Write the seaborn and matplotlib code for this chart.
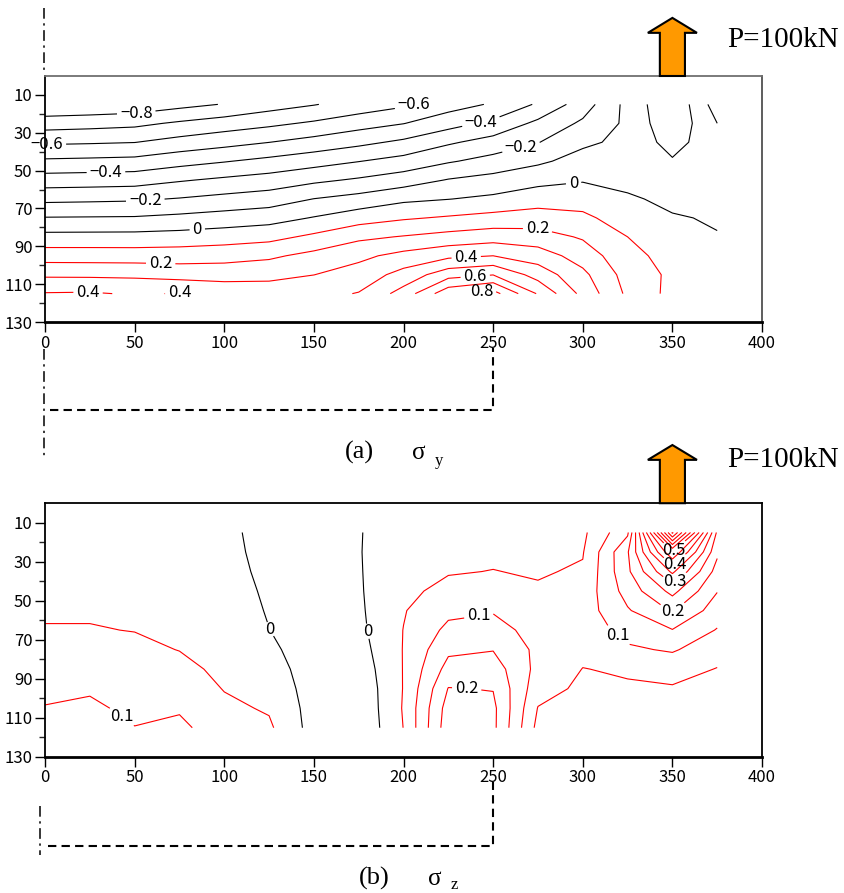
import matplotlib
matplotlib.use("Agg")
import matplotlib.pyplot as plt
import seaborn as sns
from matplotlib.patches import Polygon

# FE grid of the section (x along the member, y depth from the top face)
x_nodes = [0, 25, 50, 75, 100, 125, 150, 175, 200, 225, 250, 275, 300, 325, 350, 375]
y_nodes = [15, 25, 35, 45, 55, 65, 75, 85, 95, 105, 115]

# sigma_y, one row per y node
sigma_y = [
    [-0.890, -0.880, -0.867, -0.830, -0.795, -0.743, -0.705, -0.660, -0.617, -0.542, -0.489, -0.387, -0.250, -0.070, 0.090, -0.150],
    [-0.747, -0.737, -0.724, -0.686, -0.652, -0.622, -0.586, -0.541, -0.503, -0.440, -0.376, -0.277, -0.183, -0.080, 0.080, -0.100],
    [-0.616, -0.610, -0.602, -0.565, -0.534, -0.501, -0.464, -0.425, -0.381, -0.314, -0.261, -0.204, -0.119, -0.075, 0.040, -0.070],
    [-0.484, -0.478, -0.471, -0.436, -0.406, -0.374, -0.340, -0.303, -0.265, -0.210, -0.166, -0.118, -0.062, -0.060, -0.010, -0.050],
    [-0.353, -0.348, -0.342, -0.309, -0.282, -0.258, -0.220, -0.187, -0.148, -0.094, -0.065, -0.030, -0.007, -0.025, -0.020, -0.035],
    [-0.224, -0.219, -0.213, -0.194, -0.171, -0.150, -0.098, -0.065, -0.020, -0.002, 0.020, 0.057, 0.056, 0.012, -0.020, -0.020],
    [-0.095, -0.093, -0.091, -0.076, -0.058, -0.039, 0.006, 0.056, 0.089, 0.111, 0.133, 0.145, 0.122, 0.050, 0.007, -0.008],
    [0.030, 0.031, 0.032, 0.039, 0.053, 0.070, 0.120, 0.179, 0.206, 0.233, 0.255, 0.242, 0.189, 0.100, 0.040, 0.004],
    [0.154, 0.153, 0.151, 0.154, 0.163, 0.183, 0.228, 0.277, 0.330, 0.376, 0.400, 0.350, 0.256, 0.130, 0.065, 0.020],
    [0.284, 0.282, 0.280, 0.262, 0.259, 0.269, 0.299, 0.342, 0.436, 0.560, 0.597, 0.459, 0.324, 0.160, 0.080, 0.030],
    [0.406, 0.410, 0.390, 0.405, 0.370, 0.360, 0.370, 0.405, 0.540, 0.770, 0.840, 0.590, 0.370, 0.180, 0.070, 0.035],
]

# sigma_z, one row per y node
sigma_z = [
    [0.025, 0.025, 0.022, 0.018, 0.008, -0.012, -0.022, -0.002, 0.020, 0.030, 0.035, 0.030, 0.040, 0.140, 0.760, 0.240],
    [0.030, 0.030, 0.027, 0.022, 0.010, -0.011, -0.022, -0.002, 0.025, 0.038, 0.042, 0.038, 0.047, 0.195, 0.500, 0.210],
    [0.036, 0.036, 0.032, 0.027, 0.013, -0.009, -0.022, -0.003, 0.030, 0.047, 0.051, 0.046, 0.055, 0.190, 0.360, 0.180],
    [0.041, 0.041, 0.038, 0.033, 0.017, -0.006, -0.022, -0.005, 0.040, 0.062, 0.074, 0.055, 0.068, 0.170, 0.265, 0.152],
    [0.046, 0.046, 0.044, 0.039, 0.021, -0.003, -0.022, -0.008, 0.047, 0.088, 0.096, 0.068, 0.075, 0.145, 0.205, 0.125],
    [0.052, 0.052, 0.049, 0.045, 0.026, 0.0005, -0.022, -0.012, 0.051, 0.112, 0.120, 0.080, 0.072, 0.117, 0.148, 0.097],
    [0.066, 0.067, 0.059, 0.049, 0.032, 0.008, -0.021, -0.020, 0.052, 0.140, 0.148, 0.088, 0.062, 0.093, 0.105, 0.072],
    [0.078, 0.081, 0.070, 0.062, 0.040, 0.018, -0.020, -0.030, 0.052, 0.168, 0.175, 0.085, 0.049, 0.055, 0.070, 0.048],
    [0.090, 0.095, 0.080, 0.078, 0.048, 0.030, -0.020, -0.038, 0.052, 0.202, 0.198, 0.070, 0.040, 0.045, 0.045, 0.040],
    [0.102, 0.108, 0.090, 0.096, 0.060, 0.045, -0.020, -0.042, 0.054, 0.222, 0.212, 0.048, 0.034, 0.040, 0.035, 0.035],
    [0.115, 0.112, 0.101, 0.108, 0.080, 0.058, -0.020, -0.045, 0.051, 0.230, 0.212, 0.035, 0.030, 0.035, 0.030, 0.030],
]

sy_labelled = [-0.8, -0.6, -0.4, -0.2, 0.0, 0.2, 0.4, 0.6, 0.8]
sy_plain = [-0.7, -0.5, -0.3, -0.1, 0.1, 0.3, 0.5, 0.7]
sz_labelled = [0.0, 0.1, 0.2, 0.3, 0.4, 0.5]
sz_plain = [0.05, 0.15, 0.25, 0.35, 0.45, 0.55, 0.6, 0.65, 0.7, 0.75]

x_ticks = [0, 50, 100, 150, 200, 250, 300, 350, 400]
y_ticks = [10, 30, 50, 70, 90, 110, 130]
y_minor = [20, 40, 60, 80, 100, 120]
load_x = 350

# where the contour labels sit
sy_spots = [(51, 20.4), (1, 36.8), (34, 51.4), (56, 66.7), (85, 82.2), (64.5, 99.8),
            (24, 114.5), (75, 116), (212, 15.5), (243.6, 25.8), (266, 39.4),
            (295, 57.7), (274.8, 80.8), (235, 96.3), (240, 106), (243.6, 113.6)]
sz_spots = [(42.8, 109.5), (125.2, 64.7), (180.4, 65.5), (242.1, 58.5), (235.2, 95.8),
            (319.9, 67.6), (350.2, 55.6), (351.5, 40.6), (351.5, 31.5), (351.5, 24.9)]

sns.set_theme(style="ticks")
plt.rcParams['font.family'] = ['Noto Sans CJK JP', 'DejaVu Sans']
serif = ['Liberation Serif', 'DejaVu Serif']


def fmt(v):
    return f"{v:g}".replace('-', '\u2212')


def line_colours(levels):
    return ['black' if lev <= 0 else 'red' for lev in levels]


def draw_panel(ax, field, labelled, plain, spots, arrow_y):
    ax.contour(x_nodes, y_nodes, field, levels=plain, colors=line_colours(plain),
               linewidths=0.8, linestyles='solid')
    cs = ax.contour(x_nodes, y_nodes, field, levels=labelled,
                    colors=line_colours(labelled), linewidths=0.8, linestyles='solid')
    ax.set_xlim(0, 400)
    ax.set_ylim(130, 0)
    ax.set_xticks(x_ticks)
    ax.set_yticks(y_ticks)
    ax.set_yticks(y_minor, minor=True)
    ax.tick_params(axis='both', which='major', direction='out', length=7, width=1,
                   labelsize=12, colors='black', pad=2)
    ax.tick_params(axis='y', which='minor', direction='out', length=4, width=1)
    for side in ['left', 'bottom', 'top', 'right']:
        ax.spines[side].set_color('black')
        ax.spines[side].set_linewidth(1.3)
    ax.spines['bottom'].set_linewidth(2)

    texts = ax.clabel(cs, fmt=fmt, manual=spots, inline=True,
                      inline_spacing=3, fontsize=12, colors='black')
    for t in texts:
        t.set_rotation(0)
        t.set_clip_on(False)

    # load arrow above the section
    tip, base = arrow_y
    arrow = Polygon([(load_x - 7, 0), (load_x - 7, base), (load_x - 13.7, base),
                     (load_x, tip), (load_x + 13.7, base), (load_x + 7, base),
                     (load_x + 7, 0)], closed=True, facecolor='#FF9900',
                    edgecolor='black', linewidth=1.5, clip_on=False, zorder=5)
    ax.add_patch(arrow)


fig = plt.figure(figsize=(8.45, 8.93), dpi=100)
ax1 = fig.add_axes([0.0533, 0.6394, 0.8485, 0.2755])
ax2 = fig.add_axes([0.0533, 0.1523, 0.8485, 0.2842])

draw_panel(ax1, sigma_y, sy_labelled, sy_plain, sy_spots, (-30.7, -22.8))
draw_panel(ax2, sigma_z, sz_labelled, sz_plain, sz_spots, (-29.8, -22.2))
ax1.spines['top'].set_color('#707070')
ax1.spines['right'].set_color('#505050')

dashdot = (0, (7, 3, 1.5, 3))
dashed = (0, (4, 2.5))
# symmetry axis and support outline
ax1.plot([-0.5, -0.5], [-36, -2.5], color='black', lw=1.1, ls=dashdot, clip_on=False)
ax1.plot([-0.5, -0.5], [144, 201], color='black', lw=1.1, ls=dashdot, clip_on=False)
ax1.plot([3, 250, 250], [176.5, 176.5, 143.8], color='black', lw=1.5, ls=dashed,
         clip_on=False)
ax2.plot([-2.8, -2.8], [155, 180], color='black', lw=1.1, ls=dashdot, clip_on=False)
ax2.plot([1.5, 250, 250], [175.8, 175.8, 142], color='black', lw=1.5, ls=dashed,
         clip_on=False)

fig.text(0.860, 0.9477, 'P=100kN', fontsize=21, family=serif, color='black')
fig.text(0.860, 0.477, 'P=100kN', fontsize=21, family=serif, color='black')

fig.text(0.425, 0.486, '(a)', fontsize=19, family=serif, ha='center', color='black')
fig.text(0.495, 0.486, '\u03c3', fontsize=18, family=serif, ha='center', color='black')
fig.text(0.519, 0.479, 'y', fontsize=12, family=serif, ha='center', color='black')

fig.text(0.4426, 0.009, '(b)', fontsize=19, family=serif, ha='center', color='black')
fig.text(0.514, 0.009, '\u03c3', fontsize=18, family=serif, ha='center', color='black')
fig.text(0.538, 0.0045, 'z', fontsize=12, family=serif, ha='center', color='black')

fig.savefig('out.png', dpi=100)
